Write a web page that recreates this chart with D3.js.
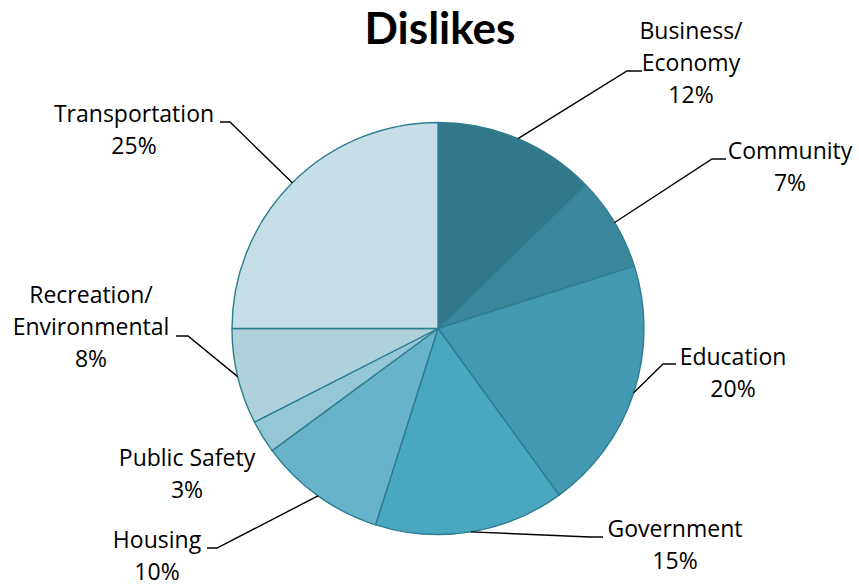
<!DOCTYPE html>
<html>
<head>
<meta charset="utf-8">
<script src="https://cdn.jsdelivr.net/npm/d3@7"></script>
<style>
  html, body { margin: 0; padding: 0; background: #fff; }
  svg { display: block; }
</style>
</head>
<body>
<svg id="chart" width="859" height="587"></svg>
<script>
// ---- data ----
const categories = ["Business/\nEconomy", "Community", "Education", "Government", "Housing", "Public Safety", "Recreation/\nEnvironmental", "Transportation"];
const values = [12.7, 7.4, 19.9, 14.9, 10.0, 2.6, 7.5, 25.0];
const pctLabels = ["12%", "7%", "20%", "15%", "10%", "3%", "8%", "25%"];
const colors = ["#31788A", "#3A879B", "#4399B0", "#4AA7C0", "#67B3CA", "#94C6D5", "#AED1DC", "#C6DEE5"];
const title = "Dislikes";

// ---- layout (label text centers / first baselines, leader elbows) ----
const labelLayout = [
  { cx: 691, y: 39,  elbow: [627, 71],  end: [642, 71] },
  { cx: 790, y: 159, elbow: [712, 159], end: [726, 159] },
  { cx: 733, y: 365, elbow: [663, 364], end: [676, 364] },
  { cx: 675, y: 537, elbow: [590, 537], end: [603, 537] },
  { cx: 157, y: 548, elbow: [217, 548], end: [207, 548] },
  { cx: 187, y: 466, elbow: null,       end: null },
  { cx: 91,  y: 303, elbow: [188, 336], end: [176, 336] },
  { cx: 134, y: 122, elbow: [230, 122], end: [220, 122] }
];

const W = 859, H = 587;
const cx = 438, cy = 328.5, R = 206;
const lineH = 32;

const svg = d3.select("#chart");

svg.append("text")
  .attr("x", 440).attr("y", 44)
  .attr("text-anchor", "middle")
  .attr("font-family", "Lato, 'Open Sans', sans-serif")
  .attr("font-weight", "bold")
  .attr("font-size", 44)
  .attr("fill", "#000")
  .text(title);

const pie = d3.pie().sort(null).value(d => d)(values);
const arc = d3.arc().innerRadius(0).outerRadius(R);

const g = svg.append("g").attr("transform", `translate(${cx},${cy})`);
g.selectAll("path.slice")
  .data(pie)
  .join("path")
  .attr("class", "slice")
  .attr("d", arc)
  .attr("fill", (d, i) => colors[i])
  .attr("stroke", "#2E7D90")
  .attr("stroke-width", 1.4)
  .attr("stroke-linejoin", "round");

// leader lines
pie.forEach((d, i) => {
  const L = labelLayout[i];
  if (!L.elbow) return;
  const a = (d.startAngle + d.endAngle) / 2;
  const sx = cx + R * Math.sin(a), sy = cy - R * Math.cos(a);
  svg.append("polyline")
    .attr("points", [[sx, sy], L.elbow, L.end].map(p => p.join(",")).join(" "))
    .attr("fill", "none")
    .attr("stroke", "#000")
    .attr("stroke-width", 1.4);
});

// labels
categories.forEach((c, i) => {
  const L = labelLayout[i];
  const lines = c.split("\n").concat([pctLabels[i]]);
  const t = svg.append("text")
    .attr("text-anchor", "middle")
    .attr("font-family", "'Open Sans', sans-serif")
    .attr("font-size", 23)
    .attr("fill", "#000");
  lines.forEach((ln, k) => {
    t.append("tspan").attr("x", L.cx).attr("y", L.y + k * lineH).text(ln);
  });
});
</script>
</body>
</html>
